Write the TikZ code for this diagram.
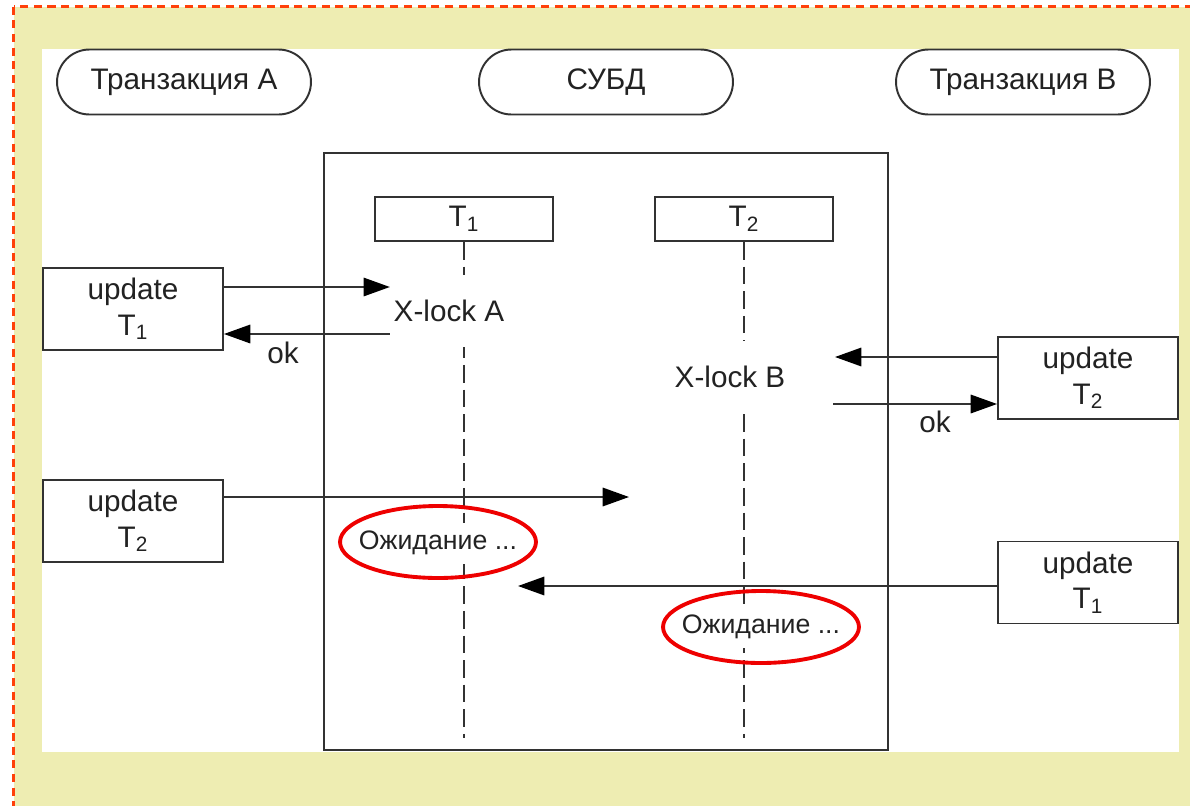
\documentclass[tikz,border=0pt]{standalone}
\usepackage{fontspec}
\setmainfont{Liberation Sans}
\usetikzlibrary{arrows.meta,shapes.geometric}

\definecolor{paper}{RGB}{238,237,178}
\definecolor{framered}{RGB}{255,64,10}
\definecolor{ink}{RGB}{50,50,50}
\definecolor{txt}{RGB}{34,34,34}
\definecolor{markred}{RGB}{238,0,0}

\tikzset{
  lbl/.style={text=txt, font=\fontsize{16.9}{20.3}\selectfont, inner sep=0pt},
  pill/.style={lbl, draw=ink, line width=1.1pt, fill=white, rounded corners=6.5mm,
    minimum width=50.8mm, minimum height=13mm},
  lanebox/.style={lbl, draw=ink, line width=1.1pt, fill=white,
    minimum width=35.6mm, minimum height=8.8mm},
  callbox/.style={lbl, draw=ink, line width=1.1pt, fill=white, align=center,
    minimum width=36mm, minimum height=16.4mm},
  lockmark/.style={lbl, fill=white, inner xsep=2pt, minimum height=14.6mm},
  waittext/.style={text=txt, font=\fontsize{15.2}{18}\selectfont, fill=white,
    inner xsep=1pt, inner ysep=0pt, minimum height=8.2mm},
  waitring/.style={draw=markred, line width=2.2pt, ellipse, inner sep=0pt,
    minimum width=39.2mm, minimum height=14.4mm},
  lifeline/.style={draw=ink, line width=1pt, dash pattern=on 10pt off 4pt},
  msg/.style={draw=ink, line width=1.1pt,
    -{Triangle[length=15pt,width=10.5pt,color=black,fill=black]}},
}

\begin{document}
\begin{tikzpicture}[x=0.02cm,y=-0.02cm]
  \useasboundingbox (0,0) rectangle (1190,805);
  \clip (0,0) rectangle (1190,805);

  % page ground: yellow sheet with dashed red edge, white drawing area
  \fill[paper] (13.5,6.5) rectangle (1200,815);
  \draw[framered, line width=1.4pt, dash pattern=on 4.6pt off 3.2pt]
    (13.5,6.5) rectangle (1210,825);
  \fill[white] (42,49) rectangle (1179,752);

  % participants
  \node[pill] (ta) at (184,82) {Транзакция А};
  \node[pill] (db) at (606,82) {СУБД};
  \node[pill] (tb) at (1023,82) {Транзакция В};

  % DBMS frame and its two transactions
  \node[draw=ink, line width=1.1pt, minimum width=112.8mm, minimum height=119.4mm,
    inner sep=0pt] (dbms) at (606,451.5) {};
  \node[lanebox] (t1) at (464,219) {T\textsubscript{1}};
  \node[lanebox] (t2) at (744,219) {T\textsubscript{2}};

  \coordinate (end1) at (464,738);
  \coordinate (end2) at (744,738);
  \draw[lifeline] (t1.south) -- (end1);
  \draw[lifeline] (t2.south) -- (end2);

  % lock events on the lifelines
  \node[lockmark] (xa) at (449,311) {X-lock A};
  \node[lockmark] (xb) at (730,377) {X-lock B};

  % waiting states
  \node[waittext] (w1) at (438,543) {Ожидание ...};
  \node[waittext] (w2) at (761,627) {Ожидание ...};
  \node[waitring] (r1) at (438,542) {};
  \node[waitring] (r2) at (761,627) {};

  % requests issued by the transactions
  \node[callbox] (ua1) at (133,309) {update\\T\textsubscript{1}};
  \node[callbox] (ua2) at (133,521) {update\\T\textsubscript{2}};
  \node[callbox] (ub2) at (1088,378) {update\\T\textsubscript{2}};
  \node[callbox] (ub1) at (1088,582.5) {update\\T\textsubscript{1}};

  % message levels
  \coordinate (y1) at (0,287);
  \coordinate (y2) at (0,334);
  \coordinate (y3) at (0,357);
  \coordinate (y4) at (0,404);
  \coordinate (y5) at (0,497);
  \coordinate (y6) at (0,586);
  \coordinate (p3) at (835,357);
  \coordinate (p4) at (833,404);
  \coordinate (p5) at (629,497);
  \coordinate (p6) at (518,586);

  \draw[msg] (ua1.east |- y1) -- (xa.west |- y1);
  \draw[msg] (xa.west |- y2) -- (ua1.east |- y2);
  \draw[msg] (ub2.west |- y3) -- (p3);
  \draw[msg] (p4) -- (ub2.west |- y4);
  \draw[msg] (ua2.east |- y5) -- (p5);
  \draw[msg] (ub1.west |- y6) -- (p6);

  \node[lbl] (ok1) at (283,353) {ok};
  \node[lbl] (ok2) at (935,422) {ok};
\end{tikzpicture}
\end{document}
